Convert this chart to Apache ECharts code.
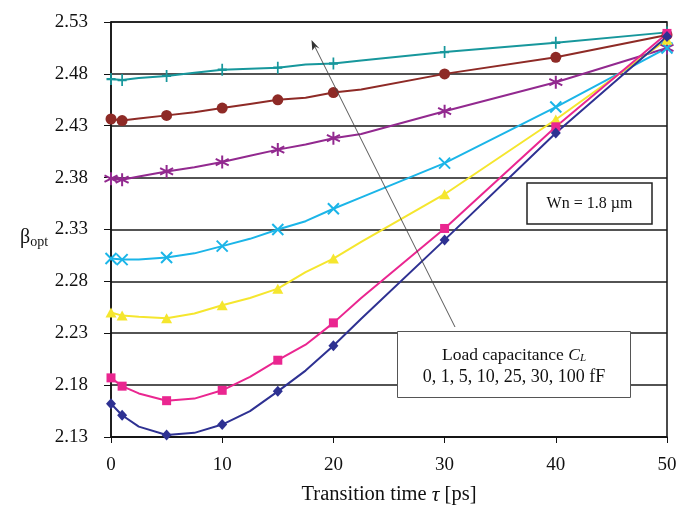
<!DOCTYPE html>
<html>
<head>
<meta charset="utf-8">
<script src="https://cdn.jsdelivr.net/npm/echarts@6/dist/echarts.min.js"></script>
<style>html,body{margin:0;padding:0;background:#fff;}#c{width:684px;height:512px;}</style>
</head>
<body>
<div id="c"></div>
<script>
// Transition time values (ps) of every data point, and those carrying a marker
const tAll = [0, 1, 2.5, 5, 7.5, 10, 12.5, 15, 17.5, 20, 22.5, 30, 40, 50];
const markerT = [0, 1, 5, 10, 15, 20, 30, 40, 50];
// beta_opt for each load capacitance
const cl0   = [2.162, 2.151, 2.140, 2.132, 2.134, 2.142, 2.155, 2.174, 2.194, 2.218, 2.244, 2.320, 2.423, 2.516];
const cl1   = [2.187, 2.179, 2.172, 2.165, 2.167, 2.175, 2.188, 2.204, 2.219, 2.240, 2.264, 2.331, 2.429, 2.519];
const cl5   = [2.250, 2.247, 2.246, 2.2445, 2.249, 2.257, 2.264, 2.273, 2.289, 2.302, 2.318, 2.364, 2.436, 2.513];
const cl10  = [2.302, 2.301, 2.301, 2.303, 2.307, 2.314, 2.321, 2.330, 2.338, 2.350, 2.361, 2.394, 2.448, 2.505];
const cl25  = [2.379, 2.378, 2.381, 2.386, 2.390, 2.395, 2.401, 2.407, 2.412, 2.418, 2.422, 2.444, 2.472, 2.505];
const cl30  = [2.4365, 2.435, 2.437, 2.440, 2.443, 2.447, 2.451, 2.455, 2.457, 2.462, 2.465, 2.480, 2.496, 2.5175];
const cl100 = [2.475, 2.474, 2.476, 2.478, 2.481, 2.484, 2.485, 2.486, 2.489, 2.490, 2.493, 2.501, 2.510, 2.520];
const seriesNames = ['100 fF', '30 fF', '25 fF', '10 fF', '5 fF', '1 fF', '0 fF'];
const xTicks = [0, 10, 20, 30, 40, 50];

const FONT = '"Liberation Serif", "DejaVu Serif", serif';
const chart = echarts.init(document.getElementById('c'), null, {renderer: 'canvas'});

function mk(name, arr, color, symbol, size, filled) {
  return {
    name: name,
    type: 'line',
    data: tAll.map((t, i) => [t, arr[i]]),
    showAllSymbol: true,
    symbol: (v) => markerT.indexOf(v[0]) >= 0 ? symbol : 'none',
    symbolSize: size,
    lineStyle: {color: color, width: 2},
    itemStyle: {color: filled ? color : 'rgba(0,0,0,0)', borderColor: color, borderWidth: filled ? 0 : 2},
    emphasis: {disabled: true},
    z: 3
  };
}

const plusSym = 'path://M5,0L5,10M1.5,5L8.5,5';
const starSym = 'path://M5,0L5,10M0.7,2.5L9.3,7.5M0.7,7.5L9.3,2.5';
const crossSym = 'path://M0,0L10,10M10,0L0,10';

chart.setOption({
  animation: false,
  backgroundColor: '#fff',
  grid: {left: 111, right: 17, top: 22, bottom: 75, show: true, borderColor: '#111', borderWidth: 1.5},
  xAxis: {
    type: 'value', min: 0, max: 50, interval: 10,
    axisLine: {show: true, lineStyle: {color: '#111', width: 1.5}},
    axisTick: {show: true, inside: false, length: 6, lineStyle: {color: '#111', width: 1}},
    axisLabel: {fontFamily: FONT, fontSize: 19, color: '#111', margin: 19,
      formatter: (v) => xTicks.indexOf(v) >= 0 ? String(v) : ''},
    splitLine: {show: false},
    name: '{n|Transition time }{t|τ}{n| [ps]}',
    nameLocation: 'middle', nameGap: 47,
    nameTextStyle: {rich: {
      n: {fontFamily: FONT, fontSize: 20.5, color: '#111'},
      t: {fontFamily: FONT, fontSize: 21.5, fontStyle: 'italic', color: '#111'}
    }}
  },
  yAxis: {
    type: 'value', min: 2.13, max: 2.53, interval: 0.05,
    axisLine: {show: true, lineStyle: {color: '#111', width: 1.5}},
    axisTick: {show: true, inside: false, length: 7, lineStyle: {color: '#111', width: 1}},
    axisLabel: {fontFamily: FONT, fontSize: 19, color: '#111', margin: 23,
      formatter: (v) => v.toFixed(2)},
    splitLine: {show: true, lineStyle: {color: '#1a1a1a', width: 1.5}}
  },
  series: [
    mk(seriesNames[0], cl100, '#17979c', plusSym, [9, 12], false),
    mk(seriesNames[1], cl30, '#8e2a26', 'circle', 11, true),
    mk(seriesNames[2], cl25, '#92298f', starSym, [13, 13], false),
    mk(seriesNames[3], cl10, '#1bb5e8', crossSym, [11, 11], false),
    mk(seriesNames[4], cl5, '#f5e62e', 'triangle', [11, 10], true),
    mk(seriesNames[5], cl1, '#ea2690', 'rect', 9, true),
    mk(seriesNames[6], cl0, '#2e3192', 'diamond', [10, 11], true)
  ],
  graphic: [
    {type: 'line', z: 10, shape: {x1: 455, y1: 327, x2: 314, y2: 45},
     style: {stroke: '#444', lineWidth: 0.9}},
    {type: 'polygon', z: 10, shape: {points: [[311.5, 40], [319.5, 48.5], [315.3, 46.5], [312.3, 50.5]]},
     style: {fill: '#333'}},
    {type: 'rect', z: 10, shape: {x: 527, y: 183, width: 125, height: 41},
     style: {fill: '#fff', stroke: '#222', lineWidth: 1.5}},
    {type: 'text', z: 11, x: 589.5, y: 204,
     style: {text: 'Wn = 1.8 µm', font: '16px ' + FONT, fill: '#111', align: 'center', verticalAlign: 'middle'}},
    {type: 'rect', z: 10, shape: {x: 397.5, y: 331.5, width: 233, height: 66},
     style: {fill: '#fff', stroke: '#555', lineWidth: 1}},
    {type: 'text', z: 11, x: 514, y: 355,
     style: {text: '{n|Load capacitance }{c|C}{s|L}', align: 'center', verticalAlign: 'middle',
       rich: {
         n: {fontFamily: FONT, fontSize: 17.5, fill: '#111'},
         c: {fontFamily: FONT, fontSize: 17.5, fontStyle: 'italic', fill: '#111'},
         s: {fontFamily: FONT, fontSize: 11, fontStyle: 'italic', fill: '#111', verticalAlign: 'bottom', padding: [6, 0, 0, 0]}
       }}},
    {type: 'text', z: 11, x: 514, y: 377,
     style: {text: '0, 1, 5, 10, 25, 30, 100 fF', font: '18px ' + FONT, fill: '#111', align: 'center', verticalAlign: 'middle'}},
    {type: 'text', z: 11, x: 20, y: 238,
     style: {text: '{b|β}{s|opt}', verticalAlign: 'middle',
       rich: {
         b: {fontFamily: FONT, fontSize: 20, fill: '#111'},
         s: {fontFamily: FONT, fontSize: 14, fill: '#111', padding: [9, 0, 0, 0]}
       }}}
  ]
});
</script>
</body>
</html>
